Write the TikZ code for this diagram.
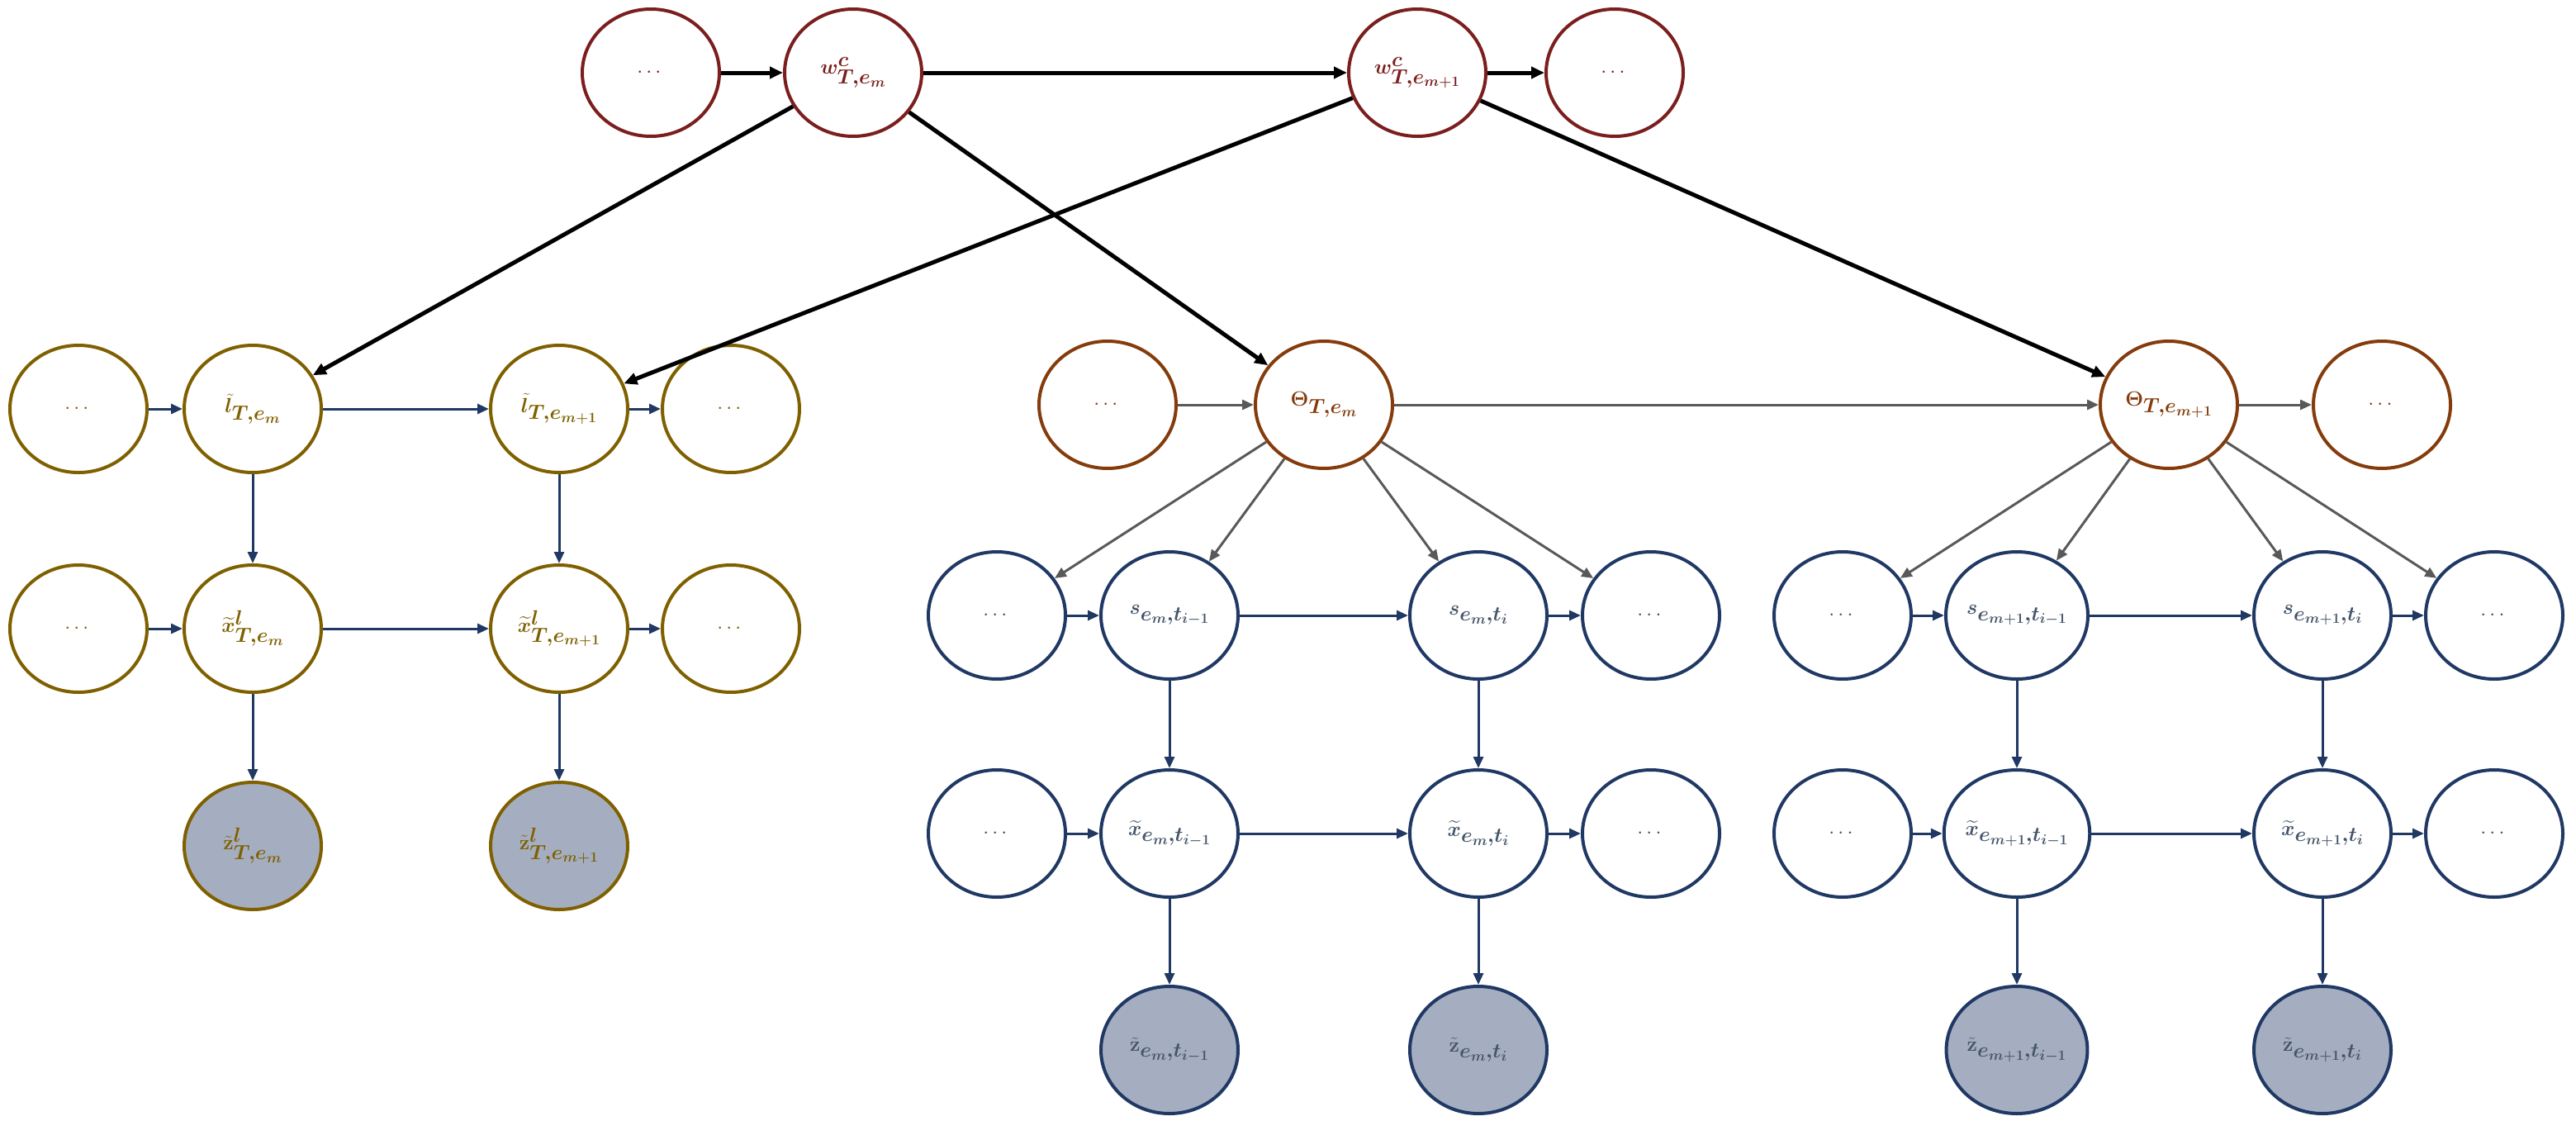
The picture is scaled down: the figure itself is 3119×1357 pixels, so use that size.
\documentclass[tikz,border=0pt]{standalone}
\usepackage{amsmath,bm}
\usetikzlibrary{arrows.meta,shapes.geometric}
\definecolor{cred}{HTML}{7B1E1E}
\definecolor{col}{HTML}{7F6000}
\definecolor{cth}{HTML}{843C0C}
\definecolor{cbl}{HTML}{203864}
\definecolor{ctx}{HTML}{44546A}
\definecolor{cfill}{HTML}{A5AEC0}
\begin{document}
\begin{tikzpicture}[x=1pt,y=-1pt,
  nd/.style={shape=ellipse,draw,line width=4pt,minimum width=166pt,minimum height=154pt,inner sep=0pt,font=\fontsize{34}{40}\selectfont},
  rd/.style={nd,draw=cred,text=cred},
  ol/.style={nd,draw=col,text=col},
  th/.style={nd,draw=cth,text=cth},
  bl/.style={nd,draw=cbl,text=ctx},
  obs/.style={fill=cfill},
  ka/.style={-{Triangle[length=16pt,width=14pt]},line width=5pt,black},
  ga/.style={-{Triangle[length=14pt,width=12pt]},line width=3pt,black!65},
  na/.style={-{Triangle[length=14pt,width=12pt]},line width=3pt,cbl}]
\useasboundingbox (0,0) rectangle (3119,1357);
% top
\node[rd] (t0) at (788,88) {$\cdots$};
\node[rd] (w1) at (1033,88) {$\boldsymbol{w^{c}_{T,e_m}}$};
\node[rd] (w2) at (1716,88) {$\boldsymbol{w^{c}_{T,e_{m+1}}}$};
\node[rd] (t3) at (1955,88) {$\cdots$};
\draw[ka] (t0)--(w1); \draw[ka] (w1)--(w2); \draw[ka] (w2)--(t3);
% left
\node[ol] (l0) at (95,495) {$\cdots$};
\node[ol] (l1) at (306,495) {$\tilde{\boldsymbol l}_{\boldsymbol{T,e_m}}$};
\node[ol] (l2) at (677,495) {$\tilde{\boldsymbol l}_{\boldsymbol{T,e_{m+1}}}$};
\node[ol] (l3) at (885,495) {$\cdots$};
\node[ol] (x0) at (95,761) {$\cdots$};
\node[ol] (x1) at (306,761) {$\boldsymbol{\widetilde{x}^{l}_{T,e_m}}$};
\node[ol] (x2) at (677,761) {$\boldsymbol{\widetilde{x}^{l}_{T,e_{m+1}}}$};
\node[ol] (x3) at (885,761) {$\cdots$};
\node[ol,obs] (z1) at (306,1024) {$\tilde{\mathbf z}^{\boldsymbol l}_{\boldsymbol{T,e_m}}$};
\node[ol,obs] (z2) at (677,1024) {$\tilde{\mathbf z}^{\boldsymbol l}_{\boldsymbol{T,e_{m+1}}}$};
\foreach \a/\b in {l0/l1,l1/l2,l2/l3,x0/x1,x1/x2,x2/x3,l1/x1,l2/x2,x1/z1,x2/z2}{\draw[na] (\a)--(\b);}
% theta
\node[th] (h0) at (1341,490) {$\cdots$};
\node[th] (h1) at (1603,490) {$\boldsymbol{\Theta_{T,e_m}}$};
\node[th] (h2) at (2626,490) {$\boldsymbol{\Theta_{T,e_{m+1}}}$};
\node[th] (h3) at (2884,490) {$\cdots$};
\draw[ga] (h0)--(h1); \draw[ga] (h1)--(h2); \draw[ga] (h2)--(h3);
\draw[ka] (w1)--(l1); \draw[ka] (w1)--(h1);
\draw[ka] (w2)--(l2); \draw[ka] (w2)--(h2);
% middle block
\node[bl] (a0) at (1207,745) {$\cdots$};
\node[bl] (a1) at (1416,745) {$\boldsymbol{s_{e_m,t_{i-1}}}$};
\node[bl] (a2) at (1790,745) {$\boldsymbol{s_{e_m,t_i}}$};
\node[bl] (a3) at (1999,745) {$\cdots$};
\node[bl] (b0) at (1207,1009) {$\cdots$};
\node[bl] (b1) at (1416,1009) {$\boldsymbol{\widetilde{x}_{e_m,t_{i-1}}}$};
\node[bl] (b2) at (1790,1009) {$\boldsymbol{\widetilde{x}_{e_m,t_i}}$};
\node[bl] (b3) at (1999,1009) {$\cdots$};
\node[bl,obs] (c1) at (1416,1271) {$\tilde{\mathbf z}_{\boldsymbol{e_m,t_{i-1}}}$};
\node[bl,obs] (c2) at (1790,1271) {$\tilde{\mathbf z}_{\boldsymbol{e_m,t_i}}$};
% right block
\node[bl] (d0) at (2231,745) {$\cdots$};
\node[bl] (d1) at (2442,745) {$\boldsymbol{s_{e_{m+1},t_{i-1}}}$};
\node[bl] (d2) at (2812,745) {$\boldsymbol{s_{e_{m+1},t_i}}$};
\node[bl] (d3) at (3020,745) {$\cdots$};
\node[bl] (e0) at (2231,1009) {$\cdots$};
\node[bl] (e1) at (2442,1009) {$\boldsymbol{\widetilde{x}_{e_{m+1},t_{i-1}}}$};
\node[bl] (e2) at (2812,1009) {$\boldsymbol{\widetilde{x}_{e_{m+1},t_i}}$};
\node[bl] (e3) at (3020,1009) {$\cdots$};
\node[bl,obs] (f1) at (2442,1271) {$\tilde{\mathbf z}_{\boldsymbol{e_{m+1},t_{i-1}}}$};
\node[bl,obs] (f2) at (2812,1271) {$\tilde{\mathbf z}_{\boldsymbol{e_{m+1},t_i}}$};
\foreach \a/\b in {a0/a1,a1/a2,a2/a3,b0/b1,b1/b2,b2/b3,a1/b1,a2/b2,b1/c1,b2/c2,
  d0/d1,d1/d2,d2/d3,e0/e1,e1/e2,e2/e3,d1/e1,d2/e2,e1/f1,e2/f2}{\draw[na] (\a)--(\b);}
\foreach \b in {a0,a1,a2,a3}{\draw[ga] (h1)--(\b);}
\foreach \b in {d0,d1,d2,d3}{\draw[ga] (h2)--(\b);}
\end{tikzpicture}
\end{document}
